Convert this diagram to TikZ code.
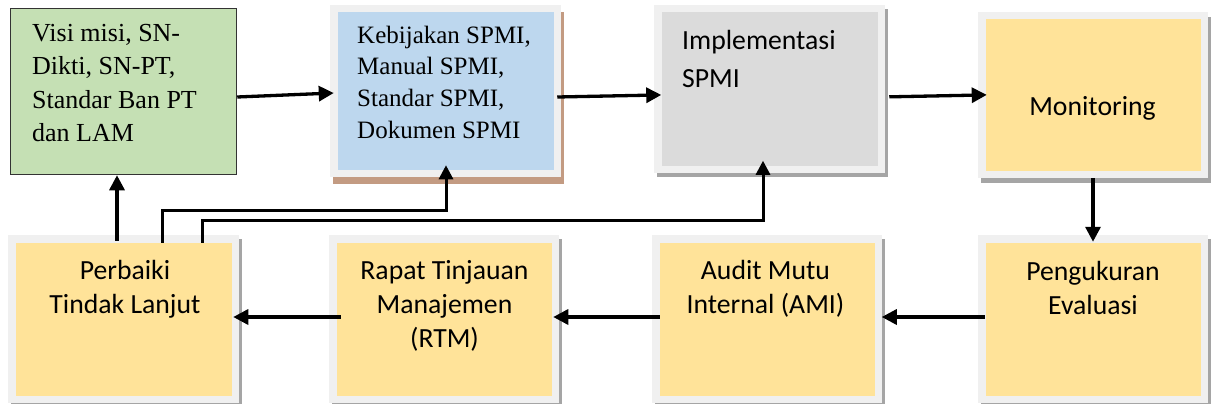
\documentclass[tikz,border=0pt]{standalone}
\usepackage{fontspec}
\setmainfont{Liberation Serif}
\newfontfamily\carlito{Carlito}
\usetikzlibrary{arrows.meta}
\definecolor{frameC}{HTML}{F0F0F0}
\definecolor{yellowC}{HTML}{FFE399}
\definecolor{grayC}{HTML}{DBDBDB}
\definecolor{blueC}{HTML}{BDD7EE}
\definecolor{greenC}{HTML}{C5E0B4}
\definecolor{greenB}{HTML}{333333}
\definecolor{shGray}{HTML}{A5A5A5}
\definecolor{shBrown}{HTML}{C39B82}
\begin{document}
\begin{tikzpicture}[x=1pt,y=-1pt,
  framebox/.style={draw=frameC, line width=7.5pt, inner sep=0pt, outer sep=0pt},
  shadowed/.style n args={3}{preaction={draw=#1, fill=#1, transform canvas={xshift=#2, yshift=#3}}},
  serifG/.style={font=\fontsize{26}{33.5}\selectfont, align=left, inner sep=0pt},
  serifB/.style={font=\fontsize{25}{31.6}\selectfont, align=left, inner sep=0pt},
  implT/.style={font=\carlito\fontsize{27.7}{38}\selectfont, align=left, inner sep=0pt},
  sansT/.style={font=\carlito\fontsize{27.7}{34.3}\selectfont, align=center, inner sep=0pt},
  arr/.style={line width=3.3pt, -{Triangle[length=15pt,width=15pt]}},
  arrthin/.style={line width=3pt, -{Triangle[length=14pt,width=14pt]}}
]
\useasboundingbox (0,0) rectangle (1212,404);
\fill[white] (0,0) rectangle (1212,404);

% boxes
\node[draw=greenB, line width=1.5pt, fill=greenC, minimum width=226pt, minimum height=166pt, inner sep=0pt] (green) at (123.5,91.5) {};
\node[framebox, fill=blueC, shadowed={shBrown}{2.5pt}{-7pt}, minimum width=223.5pt, minimum height=164.5pt] (blue) at (445.5,91) {};
\node[framebox, fill=grayC, shadowed={shGray}{3pt}{-4pt}, minimum width=223.5pt, minimum height=160.5pt] (impl) at (769.5,89) {};
\node[framebox, fill=yellowC, shadowed={shGray}{3pt}{-5pt}, minimum width=222.5pt, minimum height=158.5pt] (mon) at (1093,95) {};
\node[framebox, fill=yellowC, shadowed={shGray}{3pt}{-4pt}, minimum width=223.5pt, minimum height=160.5pt] (perb) at (123.5,319) {};
\node[framebox, fill=yellowC, shadowed={shGray}{3pt}{-4pt}, minimum width=222.5pt, minimum height=160.5pt] (rtm) at (444,319) {};
\node[framebox, fill=yellowC, shadowed={shGray}{3pt}{-4pt}, minimum width=222.5pt, minimum height=160.5pt] (ami) at (767,319) {};
\node[framebox, fill=yellowC, shadowed={shGray}{3pt}{-4pt}, minimum width=222.5pt, minimum height=160.5pt] (peng) at (1093,319) {};

% texts (base anchor = baseline of the last line)
\node[serifG, anchor=base west] (tgreen) at (32,141.5) {Visi misi, SN-\\Dikti, SN-PT,\\Standar Ban PT\\dan LAM};
\node[serifB, anchor=base west] (tblue) at (357,138.1) {Kebijakan SPMI,\\Manual SPMI,\\Standar SPMI,\\Dokumen SPMI};
\node[implT, anchor=base west] (timpl) at (682,87) {Implementasi\\SPMI};
\node[sansT, anchor=base] (tmon) at (1092.5,115) {Monitoring};
\node[sansT, anchor=base] (tperb) at (125,313.3) {Perbaiki\\Tindak Lanjut};
\node[sansT, anchor=base] (trtm) at (444.5,347.6) {Rapat Tinjauan\\Manajemen\\(RTM)};
\node[sansT, anchor=base] (tami) at (765.5,313.3) {Audit Mutu\\Internal (AMI)};
\node[sansT, anchor=base] (tpeng) at (1093,314.3) {Pengukuran\\Evaluasi};

% connectors
\draw[arr] (green.east |- 0,97) -- (blue.west |- 0,93);
\draw[arr, shorten >=-3.5pt] (blue.east |- 0,97) -- (impl.west |- 0,95);
\draw[arr, shorten <=8pt, shorten >=-5pt] (impl.east |- 0,97) -- (mon.west |- 0,95);
\draw[arr, shorten <=4pt, shorten >=-3pt] (mon.south) -- (peng.north);
\draw[arr, shorten <=-3pt, shorten >=3.5pt] (peng.west |- 0,317) -- (ami.east |- 0,317);
\draw[arr, shorten <=-4pt, shorten >=-2pt] (ami.west |- 0,317) -- (rtm.east |- 0,317);
\draw[arr, shorten <=-8pt, shorten >=-2pt] (rtm.west |- 0,317) -- (perb.east |- 0,317);
\draw[arr, shorten <=-2pt] (perb.north -| 117,0) -- (green.south -| 117,0);
\draw[arrthin, shorten <=-4pt, shorten >=-8pt] (perb.north -| 162,0) -- (162,210) -- (446,210) -- (blue.south -| 446,0);
\draw[arrthin, shorten <=-4pt, shorten >=-8.5pt] (perb.north -| 202,0) -- (202,220) -- (763,220) -- (impl.south -| 763,0);
\end{tikzpicture}
\end{document}
